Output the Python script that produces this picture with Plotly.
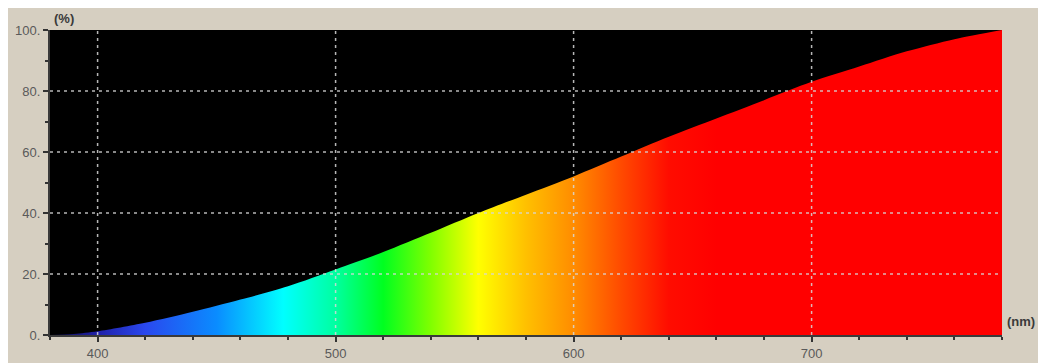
import plotly.graph_objects as go

# Data
wavelength_nm = [380, 390, 400, 420, 440, 460, 480, 500, 520, 540, 560, 580,
                 600, 620, 640, 660, 680, 700, 720, 740, 760, 780]
transmission_pct = [0, 0.3, 1.2, 4, 7.6, 11.6, 16, 21.5, 27.2, 33.5, 40, 46,
                    52, 58.5, 65, 71, 77, 83, 88, 93, 97, 100]

x_ticks = [400, 500, 600, 700]
y_ticks = [0, 20, 40, 60, 80, 100]
x_range = [380, 780]
y_range = [0, 100]

# Spectrum colours at given wavelengths
spec_nm = [380, 400, 420, 450, 478, 500, 520, 540, 560, 580, 600, 620, 640, 660, 780]
spec_col = ["#10104a", "#2020a8", "#2a48ee", "#0a8cff", "#00ffff", "#00ffa0", "#00ff20",
            "#80ff00", "#ffff00", "#ffc000", "#ff8c00", "#ff4a00", "#ff0c00", "#ff0000", "#ff0000"]
colorscale = [[(n - x_range[0]) / (x_range[1] - x_range[0]), c] for n, c in zip(spec_nm, spec_col)]

fig = go.Figure()
fig.add_trace(go.Scatter(
    x=wavelength_nm, y=transmission_pct, mode="lines",
    line=dict(width=0, color="#ff0000", shape="spline", smoothing=0.8),
    fill="tozeroy",
    fillgradient=dict(type="horizontal", colorscale=colorscale),
    hoverinfo="x+y", showlegend=False,
))

grid_style = dict(color="rgba(215,215,215,0.85)", width=1.5, dash="3px,4px")
shapes = []
for xv in x_ticks:
    shapes.append(dict(type="line", xref="x", yref="y", x0=xv, x1=xv, y0=y_range[0], y1=y_range[1],
                       line=grid_style, layer="above"))
for yv in y_ticks[1:-1]:
    shapes.append(dict(type="line", xref="x", yref="y", x0=x_range[0], x1=x_range[1], y0=yv, y1=yv,
                       line=grid_style, layer="above"))

fig.update_layout(
    width=1038, height=355,
    margin=dict(l=42, r=44, t=22, b=28, autoexpand=False),
    paper_bgcolor="#d6cfc1",
    plot_bgcolor="black",
    font=dict(family="Liberation Sans, Arial", size=13, color="#5a5a5a"),
    shapes=shapes,
    xaxis=dict(
        range=x_range, tickvals=x_ticks, showgrid=False, zeroline=False, automargin=False,
        ticks="outside", ticklen=5, tickcolor="#333", tickwidth=1.5,
        minor=dict(dtick=20, tick0=380, ticks="outside", ticklen=3, tickcolor="#333", showgrid=False),
        showline=True, linecolor="#3a3a3a", linewidth=2, mirror=False,
        tickfont=dict(size=13, color="#5a5a5a"),
    ),
    yaxis=dict(
        range=y_range, tickvals=y_ticks, ticktext=[f"{v}." for v in y_ticks],
        showgrid=False, zeroline=False, automargin=False,
        ticks="outside", ticklen=5, tickcolor="#333", tickwidth=1.5,
        minor=dict(dtick=10, ticks="outside", ticklen=3, tickcolor="#333", showgrid=False),
        showline=True, linecolor="#3a3a3a", linewidth=2,
        tickfont=dict(size=13, color="#5a5a5a"),
    ),
    annotations=[
        dict(text="<b>(%)</b>", xref="paper", yref="paper", x=0.0, y=1.0, xshift=2, yshift=2,
             xanchor="left", yanchor="bottom", showarrow=False,
             font=dict(size=13, color="#3a3a3a")),
        dict(text="<b>(nm)</b>", xref="paper", yref="paper", x=1.0, y=0.0, xshift=3, yshift=4,
             xanchor="left", yanchor="bottom", showarrow=False,
             font=dict(size=13, color="#3a3a3a")),
    ],
)

fig.write_html("out.html")
